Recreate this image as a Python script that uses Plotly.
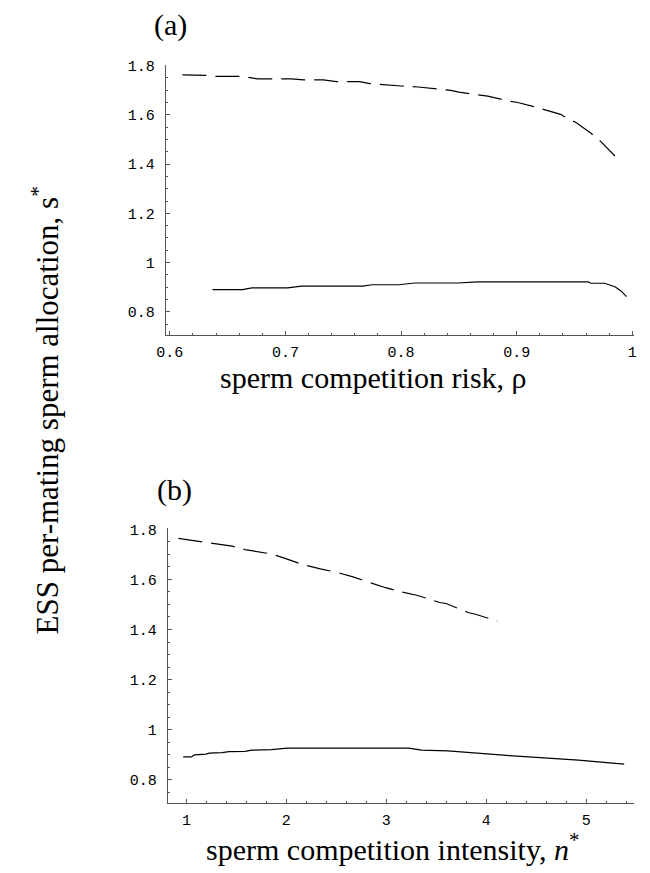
import plotly.graph_objects as go

# ---------------- data ----------------
# panel (a): x = sperm competition risk rho
rho_dashed = [0.611, 0.631, 0.640, 0.663, 0.676, 0.705, 0.716, 0.733, 0.744, 0.764,
              0.773, 0.790, 0.800, 0.815, 0.824, 0.843, 0.850, 0.869, 0.875, 0.894,
              0.901, 0.919, 0.926, 0.938, 0.945, 0.951, 0.964, 0.972, 0.985]
s_dashed_a = [1.762, 1.760, 1.756, 1.756, 1.746, 1.746, 1.742, 1.742, 1.735, 1.735,
              1.727, 1.719, 1.717, 1.713, 1.709, 1.699, 1.692, 1.682, 1.676, 1.655,
              1.650, 1.628, 1.619, 1.602, 1.582, 1.570, 1.526, 1.495, 1.433]

rho_solid = [0.637, 0.663, 0.671, 0.702, 0.714, 0.767, 0.775, 0.798, 0.812, 0.849,
             0.866, 0.962, 0.964, 0.976, 0.985, 0.990, 0.995]
s_solid_a = [0.890, 0.890, 0.897, 0.897, 0.904, 0.904, 0.910, 0.910, 0.917, 0.917,
             0.922, 0.922, 0.916, 0.916, 0.902, 0.886, 0.862]

# panel (b): x = sperm competition intensity n*
n_dashed = [0.92, 1.017, 1.098, 1.229, 1.392, 1.458, 1.588, 1.719, 1.85, 1.98,
            2.046, 2.176, 2.34, 2.503, 2.667, 2.863, 2.993, 3.157, 3.238, 3.304,
            3.533, 3.598, 3.817, 3.892, 4.111]
s_dashed_b = [1.764, 1.758, 1.755, 1.746, 1.735, 1.733, 1.719, 1.709, 1.702, 1.685,
              1.676, 1.658, 1.642, 1.629, 1.610, 1.583, 1.567, 1.550, 1.543, 1.537,
              1.508, 1.504, 1.468, 1.461, 1.434]

n_solid = [0.968, 1.049, 1.082, 1.196, 1.229, 1.36, 1.425, 1.588, 1.654, 1.85,
           2.013, 3.222, 3.353, 3.614, 4.268, 4.922, 5.379]
s_solid_b = [0.891, 0.891, 0.899, 0.902, 0.906, 0.908, 0.912, 0.913, 0.918, 0.920,
             0.926, 0.926, 0.918, 0.915, 0.895, 0.878, 0.862]

# tick values / labels
y_tickvals = [0.8, 1.0, 1.2, 1.4, 1.6, 1.8]
y_ticktext = ["0.8", "1", "1.2", "1.4", "1.6", "1.8"]
xa_tickvals = [0.6, 0.7, 0.8, 0.9, 1.0]
xa_ticktext = ["0.6", "0.7", "0.8", "0.9", "1"]
xb_tickvals = [1, 2, 3, 4, 5]
xb_ticktext = ["1", "2", "3", "4", "5"]

# ---------------- figure ----------------
W, H = 650, 873
TICKFONT = dict(family="Liberation Mono, Courier New, monospace", size=15, color="black")
SERIF = "Liberation Serif, Times New Roman, serif"
AXCOL = "#555555"

dash_line = dict(color="black", width=1.2, dash="24px,9px")
solid_line = dict(color="black", width=1.2)

fig = go.Figure()
fig.add_trace(go.Scatter(x=rho_dashed, y=s_dashed_a, mode="lines", line=dash_line,
                         xaxis="x", yaxis="y", showlegend=False, hoverinfo="skip"))
fig.add_trace(go.Scatter(x=rho_solid, y=s_solid_a, mode="lines", line=solid_line,
                         xaxis="x", yaxis="y", showlegend=False, hoverinfo="skip"))
fig.add_trace(go.Scatter(x=n_dashed, y=s_dashed_b, mode="lines", line=dash_line,
                         xaxis="x2", yaxis="y2", showlegend=False, hoverinfo="skip"))
fig.add_trace(go.Scatter(x=n_solid, y=s_solid_b, mode="lines", line=solid_line,
                         xaxis="x2", yaxis="y2", showlegend=False, hoverinfo="skip"))


def axis_common():
    return dict(showline=True, linecolor=AXCOL, linewidth=1, showgrid=False,
                zeroline=False, ticks="inside", ticklen=4, tickwidth=1,
                tickcolor=AXCOL, tickfont=TICKFONT, mirror=False)


xa = axis_common()
xa.update(domain=[159 / W, 637 / W], range=[0.5966, 1.0017], tickvals=xa_tickvals,
          ticktext=xa_ticktext, anchor="y", ticklabelstandoff=3,
          minor=dict(dtick=0.02, tick0=0.6, ticks="inside", ticklen=2, tickcolor=AXCOL))
ya = axis_common()
ya.update(domain=[1 - 331 / H, 1 - 59 / H], range=[0.707, 1.804], tickvals=y_tickvals,
          ticktext=y_ticktext, anchor="x", ticklabelstandoff=7,
          minor=dict(dtick=0.05, tick0=0.8, ticks="inside", ticklen=2, tickcolor=AXCOL))
xb = axis_common()
xb.update(domain=[161 / W, 637 / W], range=[0.814, 5.48], tickvals=xb_tickvals,
          ticktext=xb_ticktext, anchor="y2", ticklabelstandoff=3,
          minor=dict(dtick=0.2, tick0=1, ticks="inside", ticklen=2, tickcolor=AXCOL))
yb = axis_common()
yb.update(domain=[1 - 803 / H, 1 - 526 / H], range=[0.705, 1.804], tickvals=y_tickvals,
          ticktext=y_ticktext, anchor="x2", ticklabelstandoff=7,
          minor=dict(dtick=0.05, tick0=0.8, ticks="inside", ticklen=2, tickcolor=AXCOL))

fig.update_layout(
    width=W, height=H, autosize=False,
    margin=dict(l=0, r=0, t=0, b=0),
    paper_bgcolor="white", plot_bgcolor="white",
    xaxis=xa, yaxis=ya, xaxis2=xb, yaxis2=yb,
    showlegend=False,
)


def ann(text, x, y, size, angle=0):
    fig.add_annotation(text=text, x=x / W, y=1 - y / H, xref="paper", yref="paper",
                       xanchor="center", yanchor="middle", showarrow=False,
                       textangle=angle, font=dict(family=SERIF, size=size, color="black"))


ann("(a)", 164, 19, 30)
ann("(b)", 168, 487, 30)
ann("sperm competition risk, ρ", 371, 374, 30)
ann("sperm competition intensity, <i>n</i><sup>*</sup>", 391, 847, 30)
ann("ESS per-mating sperm allocation, s<sup>*</sup>", 36, 407, 31, angle=-90)

fig.write_html(
    "out.html",
    config={"displayModeBar": False, "staticPlot": True},
    post_script=(
        "document.body.style.margin='0px';document.body.style.overflow='hidden';"
        "var gd=document.getElementById('{plot_id}');"
        "gd.style.position='absolute';gd.style.left='0px';gd.style.top='0px';"
    ),
)
